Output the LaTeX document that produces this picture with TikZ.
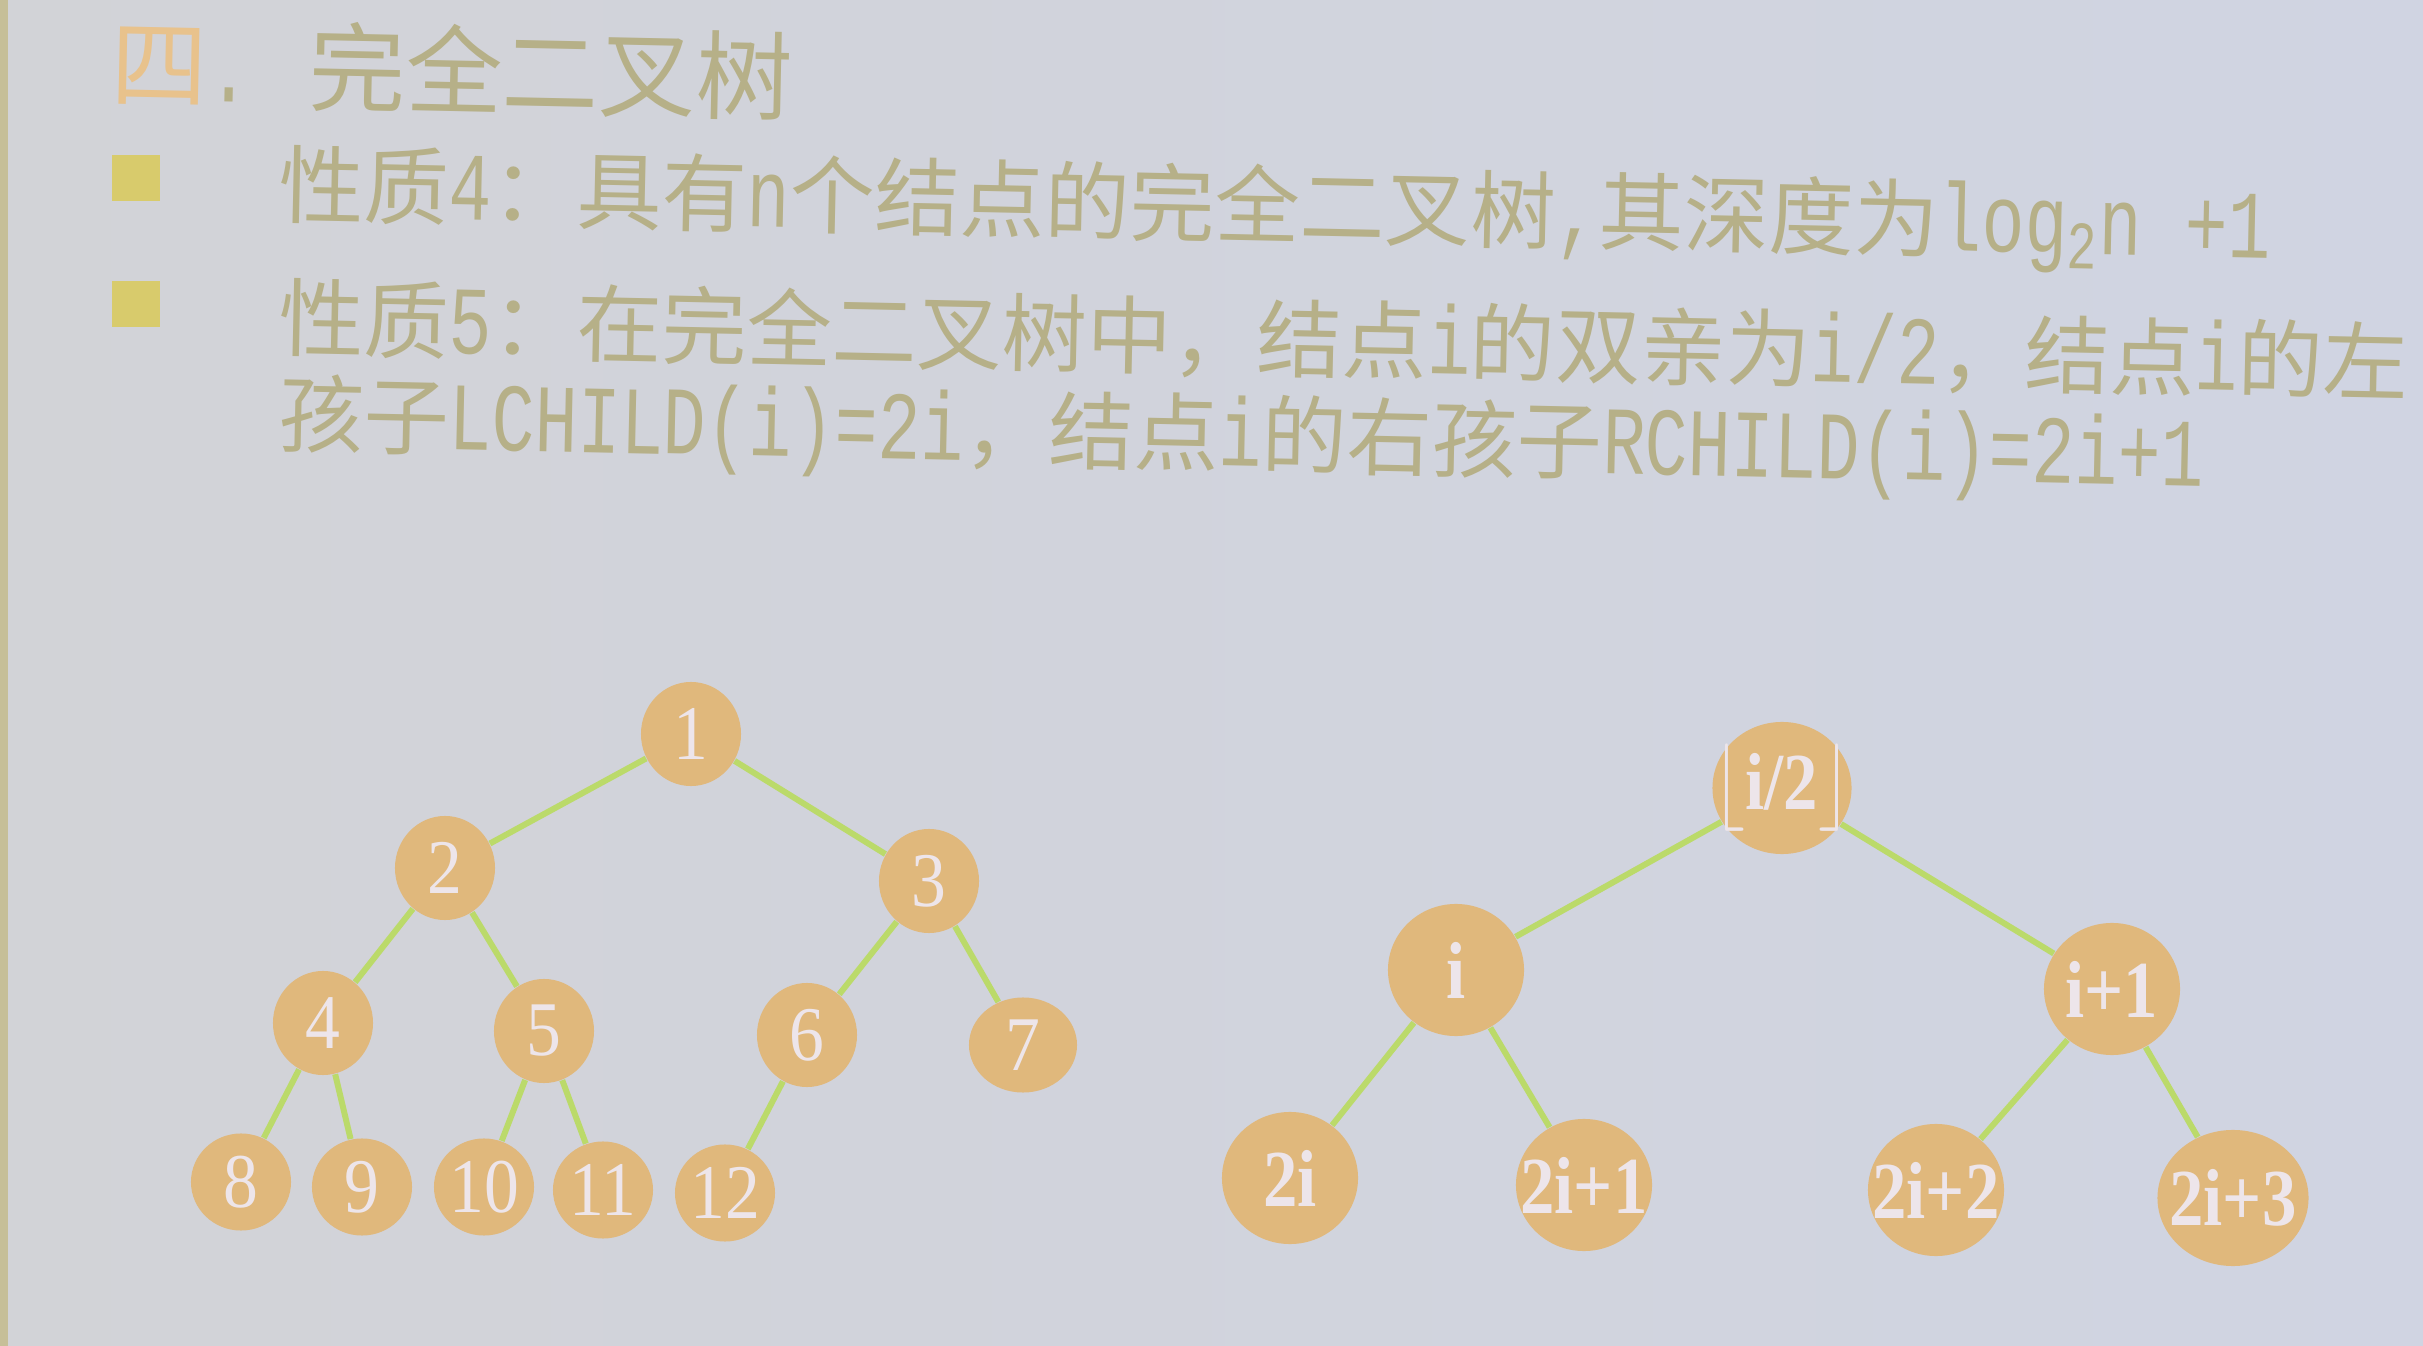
\documentclass[tikz,border=0pt]{standalone}
\usepackage{fontspec}
\usepackage{graphicx}
\setmainfont{Liberation Serif}
\newfontfamily\cjk{Noto Sans CJK SC}
\newfontfamily\latm{Liberation Mono}
\usetikzlibrary{shapes.geometric}
\definecolor{bgL}{HTML}{D2D3D7}
\definecolor{bgR}{HTML}{D0D4E2}
\definecolor{txt}{HTML}{B6B088}
\definecolor{four}{HTML}{E8C28C}
\definecolor{bul}{HTML}{D8CB6C}
\definecolor{nodefill}{HTML}{E0B87C}
\definecolor{edgec}{HTML}{BBDA6A}
\definecolor{lbl}{HTML}{EDE5EA}
\definecolor{strip}{HTML}{C6BF98}
\newcommand\lt[1]{\scalebox{0.74}[1]{\latm\fontsize{27.5}{29}\selectfont #1}}
\newcommand\lb[1]{\makebox[0pt][c]{\scalebox{0.9}[1]{#1}}}
\newcommand\rb[1]{\makebox[0pt][c]{\scalebox{0.85}[1]{#1}}}
\begin{document}
\begin{tikzpicture}[x=0.01cm,y=-0.01cm,
  tn/.style={ellipse,fill=nodefill,inner sep=0pt,minimum width=10mm,minimum height=10.4mm,
    text=lbl,font=\fontsize{22}{24}\selectfont},
  rn/.style={ellipse,fill=nodefill,inner sep=0pt,minimum width=13.6mm,minimum height=13.2mm,
    text=lbl,font=\fontsize{23}{25}\selectfont\bfseries},
  ed/.style={draw=edgec,line width=1.7pt},
  line/.style={anchor=west,inner sep=0pt,text=txt,rotate=-1.2,font=\fontsize{24.2}{27}\selectfont\cjk},
  bullet/.style={fill=bul,minimum width=4.8mm,minimum height=4.6mm,inner sep=0pt}]
\useasboundingbox (0,0) rectangle (2423,1346);
\fill[left color=bgL,right color=bgR] (0,0) rectangle (2423,1346);
\fill[strip] (0,0) rectangle (8,1346);

% title
\node[line,font=\fontsize{27.5}{30}\selectfont\cjk] (title) at (111,62)
  {\textcolor{four}{四}\lt{.}\hspace{0.6em}完全二叉树};

% bullets
\node[bullet] (b1) at (136,178) {};
\node[bullet] (b2) at (136,304) {};

% text lines
\node[line] (l1) at (278,190)
  {性质\lt{4}：具有\lt{n}个结点的完全二叉树\lt{,}其深度为\lt{log\textsubscript{2}n +1}};
\node[line] (l2) at (278,318)
  {性质\lt{5}：在完全二叉树中，结点\lt{i}的双亲为\lt{i/2}，结点\lt{i}的左};
\node[line] (l3) at (278,420)
  {孩子\lt{LCHILD(i)=2i}，结点\lt{i}的右孩子\lt{RCHILD(i)=2i+1}};

% left tree
\node[tn] (n1) at (691,734) {\lb{1}};
\node[tn] (n2) at (445,868) {\lb{2}};
\node[tn] (n3) at (929,881) {\lb{3}};
\node[tn] (n4) at (323,1023) {\lb{4}};
\node[tn] (n5) at (544,1031) {\lb{5}};
\node[tn] (n6) at (807,1035) {\lb{6}};
\node[tn,minimum width=10.8mm,minimum height=9.5mm] (n7) at (1023,1045) {\lb{7}};
\node[tn,minimum height=9.7mm] (n8) at (241,1182) {\lb{8}};
\node[tn,minimum height=9.7mm] (n9) at (362,1187) {\lb{9}};
\node[tn,minimum height=9.7mm] (n10) at (484,1187) {\lb{10}};
\node[tn,minimum height=9.7mm] (n11) at (603,1190) {\lb{11}};
\node[tn,minimum height=9.7mm] (n12) at (725,1193) {\lb{12}};
\foreach \a/\b in {n1/n2,n1/n3,n2/n4,n2/n5,n3/n6,n3/n7,n4/n8,n4/n9,n5/n10,n5/n11,n6/n12}
  \draw[ed] (\a) -- (\b);

% right tree
\node[rn,minimum width=13.9mm] (p) at (1782,788) {\rb{$\lfloor$i/2$\rfloor$}};
\node[rn] (i) at (1456,970) {\rb{i}};
\node[rn] (i1) at (2112,989) {\rb{i+1}};
\node[rn] (c1) at (1290,1178) {\rb{2i}};
\node[rn] (c2) at (1584,1185) {\rb{2i+1}};
\node[rn] (c3) at (1936,1190) {\rb{2i+2}};
\node[rn,minimum width=15.1mm,minimum height=13.6mm] (c4) at (2233,1198) {\rb{2i+3}};
\foreach \a/\b in {p/i,p/i1,i/c1,i/c2,i1/c3,i1/c4}
  \draw[ed] (\a) -- (\b);
\end{tikzpicture}
\end{document}
